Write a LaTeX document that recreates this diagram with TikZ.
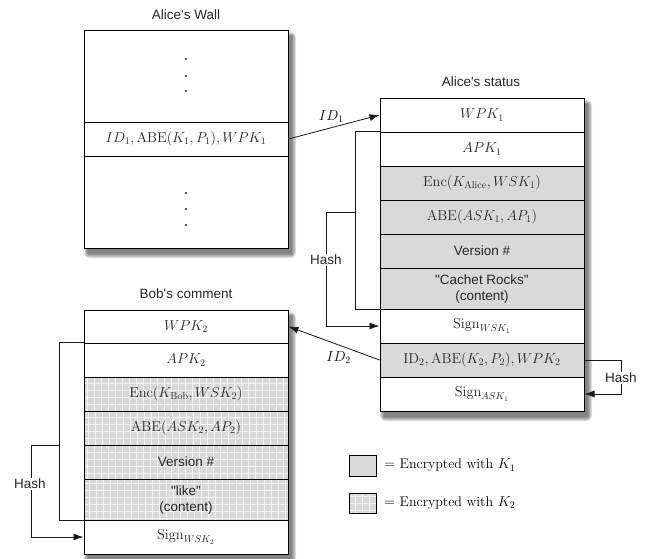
\documentclass[tikz,border=0pt]{standalone}
\usepackage[no-math]{fontspec}
\newfontfamily\sfh{Liberation Sans}
\usetikzlibrary{arrows.meta,calc}
\definecolor{encgray}{HTML}{D9D9D9}
\definecolor{gridwhite}{HTML}{F4F4F4}
\newcommand\myshadow[4]{%
  \foreach \k in {0,1,2,3,4,5,6}{%
    \fill[black,opacity=0.09,rounded corners=\k pt] (#1+4-\k*0.7,#2+6-\k*0.7) rectangle (#3+4+\k*0.7,#4+6+\k*0.7);
  }%
}
\tikzset{
  row/.style={draw, line width=1pt, fill=white, minimum width=204pt, inner sep=0pt, align=center, text=black!85},
  enc/.style={row, fill=encgray},
  encgrid/.style={row, fill=encgray, path picture={\draw[gridwhite, line width=1pt] ([shift={(-8pt,-8pt)}]path picture bounding box.south west) grid[step=7pt] ([shift={(8pt,8pt)}]path picture bounding box.north east);}},
  conn/.style={line width=0.8pt, draw=black!90},
  arr/.style={conn, -{Latex[length=10pt,width=7pt]}},
  title/.style={font=\sfh\fontsize{13.5}{16}\selectfont, text=black!85},
  hashlbl/.style={font=\sfh\fontsize{13.5}{16}\selectfont, fill=white, inner sep=1.5pt, text=black!85},
  sfrow/.style={font=\sfh\fontsize{13.5}{16}\selectfont},
}
\begin{document}
\begin{tikzpicture}[x=1pt,y=-1pt, font=\fontsize{14}{17}\selectfont]
\useasboundingbox (0,0) rectangle (657,558);
% shadows
\myshadow{84}{30}{288}{248}
\myshadow{380}{98}{584}{411}
\myshadow{84}{310}{288}{554}

% Alice's Wall
\node[title] (tw) at (186,15) {Alice\textquotesingle s Wall};
\node[row, minimum height=92pt] (w1) at (186,76) {};
\node[row, minimum height=34pt] (w2) at (186,139) {$ID_1, \mathrm{ABE}(K_1,P_1), WPK_1$};
\node[row, minimum height=92pt] (w3) at (186,202) {};
\foreach \d in {-17,0,15}{\fill[black!85] ($(w1.center)+(0,\d)$) circle (1.2pt);}
\foreach \d in {-9,7,23}{\fill[black!85] ($(w3.center)+(0,\d)$) circle (1.2pt);}

% Alice's status
\node[title] (ts) at (481,82) {Alice\textquotesingle s status};
\node[row, minimum height=34pt] (s1) at (482,115) {$WPK_1$};
\node[row, minimum height=34pt] (s2) at (482,149) {$APK_1$};
\node[enc, minimum height=34pt] (s3) at (482,183) {$\mathrm{Enc}(K_{\mathrm{Alice}}, WSK_1)$};
\node[enc, minimum height=34pt] (s4) at (482,217) {$\mathrm{ABE}(ASK_1, AP_1)$};
\node[enc, sfrow, minimum height=34pt] (s5) at (482,251) {Version \#};
\node[enc, sfrow, minimum height=41pt] (s6) at (482,288.5) {"Cachet Rocks"\\(content)};
\node[row, minimum height=34pt] (s7) at (482,326) {$\mathrm{Sign}_{WSK_1}$};
\node[enc, minimum height=34pt] (s8) at (482,360) {$\mathrm{ID}_2, \mathrm{ABE}(K_2,P_2), WPK_2$};
\node[row, minimum height=34pt] (s9) at (482,394) {$\mathrm{Sign}_{ASK_1}$};

% Bob's comment
\node[title] (tb) at (186,294) {Bob\textquotesingle s comment};
\node[row, minimum height=33pt] (b1) at (186,326.5) {$WPK_2$};
\node[row, minimum height=34pt] (b2) at (186,360) {$APK_2$};
\node[encgrid, minimum height=34pt] (b3) at (186,394) {$\mathrm{Enc}(K_{\mathrm{Bob}}, WSK_2)$};
\node[encgrid, minimum height=34pt] (b4) at (186,428) {$\mathrm{ABE}(ASK_2, AP_2)$};
\node[encgrid, sfrow, minimum height=34pt] (b5) at (186,462) {Version \#};
\node[encgrid, sfrow, minimum height=41pt] (b6) at (186,499.5) {"like"\\(content)};
\node[row, minimum height=34pt] (b7) at (186,537) {$\mathrm{Sign}_{WSK_2}$};

% ID arrows
\draw[arr] (w2.east) -- node[pos=0.47, above=1pt] (id1) {$ID_1$} (s1.west);
\draw[arr] (s8.west) -- node[pos=0.45, below=3pt] (id2) {$ID_2$} (b1.east);

% Hash brackets, Alice's status
\coordinate (hsA) at (356,212);
\draw[conn] (s2.north west) -- ++(-24,0) |- (s6.south west);
\draw[arr] (hsA) -- (326,212) |- (s7.west);
\node[hashlbl] (hA) at (326,260) {Hash};

% Hash, right side
\draw[arr] (s8.east) -- ++(37,0) |- (s9.east);
\node[hashlbl] (hR) at (621,378) {Hash};

% Hash brackets, Bob's comment
\coordinate (hsB) at (60,445.7);
\draw[conn] (b2.north west) -- ++(-24,0) |- (b6.south west);
\draw[arr] (hsB) -- (31,445.7) |- (b7.west);
\node[hashlbl] (hB) at (30,484) {Hash};

% Legend
\node[draw, line width=1pt, fill=encgray, minimum width=27pt, minimum height=21pt, inner sep=0pt] (l1) at (362.5,465.5) {};
\node[anchor=west, inner sep=0pt] (t1) at (384,465.5) {$=$ Encrypted with $K_1$};
\node[encgrid, minimum width=27pt, minimum height=20pt] (l2) at (362.5,503) {};
\node[anchor=west, inner sep=0pt] (t2) at (384,503) {$=$ Encrypted with $K_2$};
\end{tikzpicture}
\end{document}
